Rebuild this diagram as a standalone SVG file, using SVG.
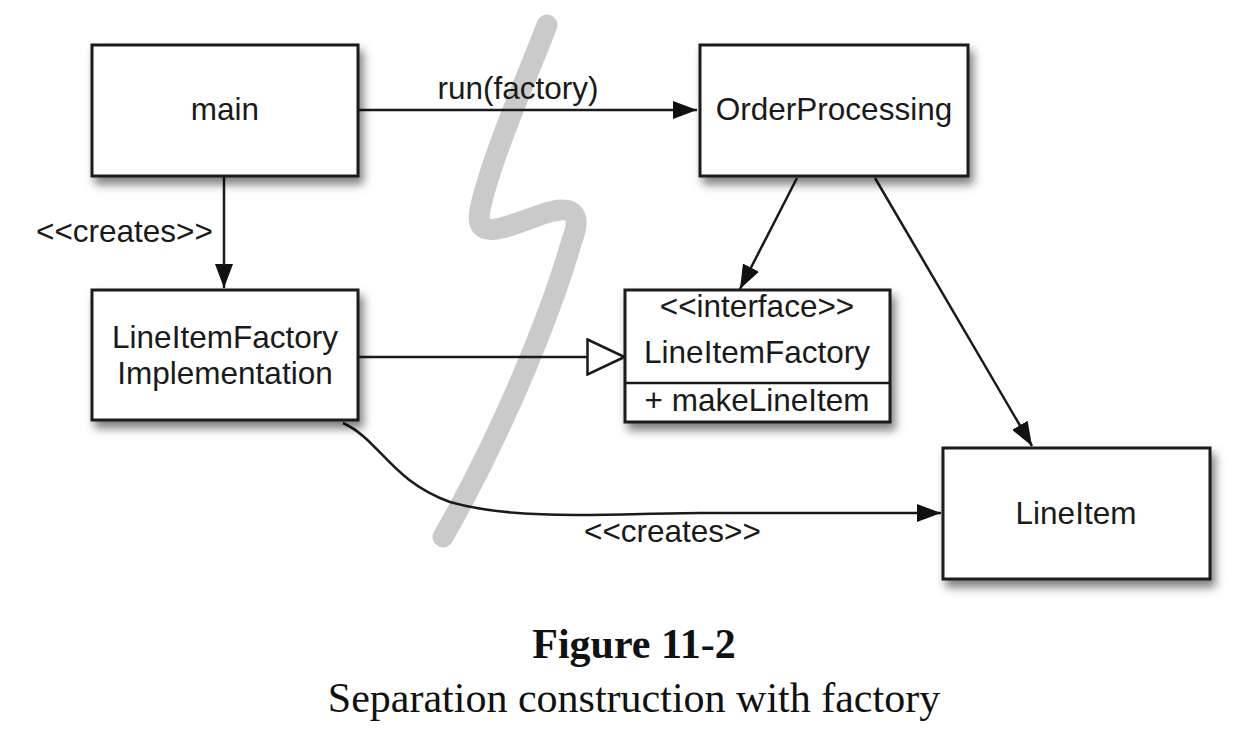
<svg xmlns="http://www.w3.org/2000/svg" width="1252" height="746" viewBox="0 0 1252 746">
<style>
.box{fill:#fff;stroke:#1a1a1a;stroke-width:3;filter:url(#sh)}
.t{font-family:"Liberation Sans",Arial,sans-serif;font-size:31.5px;fill:#1a1a1a}
.c{text-anchor:middle}
.ln{fill:none;stroke:#1a1a1a;stroke-width:2.5}
.cap{font-family:"Liberation Serif","Times New Roman",serif;font-size:42px;fill:#111;text-anchor:middle}
</style>
<defs>
<filter id="sh" x="-20%" y="-20%" width="150%" height="160%">
<feDropShadow dx="4" dy="7" stdDeviation="5" flood-color="#000" flood-opacity="0.5"/>
</filter>
<marker id="ar" viewBox="0 0 24 18" refX="24" refY="9" markerWidth="24" markerHeight="18" markerUnits="userSpaceOnUse" orient="auto">
<path d="M0 0 L24 9 L0 18 Z" fill="#111"/>
</marker>
<marker id="tri" viewBox="0 0 40 38" refX="39" refY="19" markerWidth="40" markerHeight="38" markerUnits="userSpaceOnUse" orient="auto">
<path d="M1.5 1.5 L38.5 19 L1.5 36.5 Z" fill="#fff" stroke="#1a1a1a" stroke-width="2.5"/>
</marker>
</defs>
<rect width="1252" height="746" fill="#fff"/>
<path id="divider" d="M547 25 C530 70 490 160 480 210 C474 240 500 230 540 215 C575 202 582 215 572 240 C555 300 510 420 443 537" fill="none" stroke="#cacaca" stroke-width="21" stroke-linecap="round" stroke-linejoin="round"/>
<g id="connectors">
<line class="ln" x1="358" y1="110" x2="697" y2="110" marker-end="url(#ar)"/>
<line class="ln" x1="224" y1="176" x2="224" y2="288" marker-end="url(#ar)"/>
<line class="ln" x1="358" y1="357" x2="625" y2="357" marker-end="url(#tri)"/>
<line class="ln" x1="797" y1="178" x2="740" y2="289" marker-end="url(#ar)"/>
<line class="ln" x1="875" y1="178" x2="1032" y2="446" marker-end="url(#ar)"/>
<path class="ln" d="M343 423 C380 440 390 480 450 502 C520 522 620 513 700 513 L941 513" marker-end="url(#ar)"/>
<text class="t c" x="518" y="99">run(factory)</text>
<text class="t" x="36" y="242">&lt;&lt;creates&gt;&gt;</text>
<text class="t" x="584" y="542">&lt;&lt;creates&gt;&gt;</text>
</g>
<g id="main">
<rect class="box" x="92" y="45" width="266" height="131"/>
<text class="t c" x="225" y="120">main</text>
</g>
<g id="orderprocessing">
<rect class="box" x="700" y="45" width="268" height="131"/>
<text class="t c" x="834" y="120">OrderProcessing</text>
</g>
<g id="lineitemfactoryimpl">
<rect class="box" x="92" y="290" width="266" height="130"/>
<text class="t c" x="225" y="348">LineItemFactory</text>
<text class="t c" x="225" y="384">Implementation</text>
</g>
<g id="lineitemfactory">
<rect class="box" x="625" y="290" width="265" height="132"/>
<line x1="625" y1="383" x2="890" y2="383" stroke="#1a1a1a" stroke-width="2.5"/>
<text class="t c" x="757" y="317">&lt;&lt;interface&gt;&gt;</text>
<text class="t c" x="757" y="363">LineItemFactory</text>
<text class="t c" x="757" y="411">+ makeLineItem</text>
</g>
<g id="lineitem">
<rect class="box" x="943" y="448" width="267" height="131"/>
<text class="t c" x="1076" y="524">LineItem</text>
</g>
<g id="caption">
<text class="cap" x="634" y="658" font-weight="bold">Figure 11-2</text>
<text class="cap" x="634" y="712">Separation construction with factory</text>
</g>
</svg>
